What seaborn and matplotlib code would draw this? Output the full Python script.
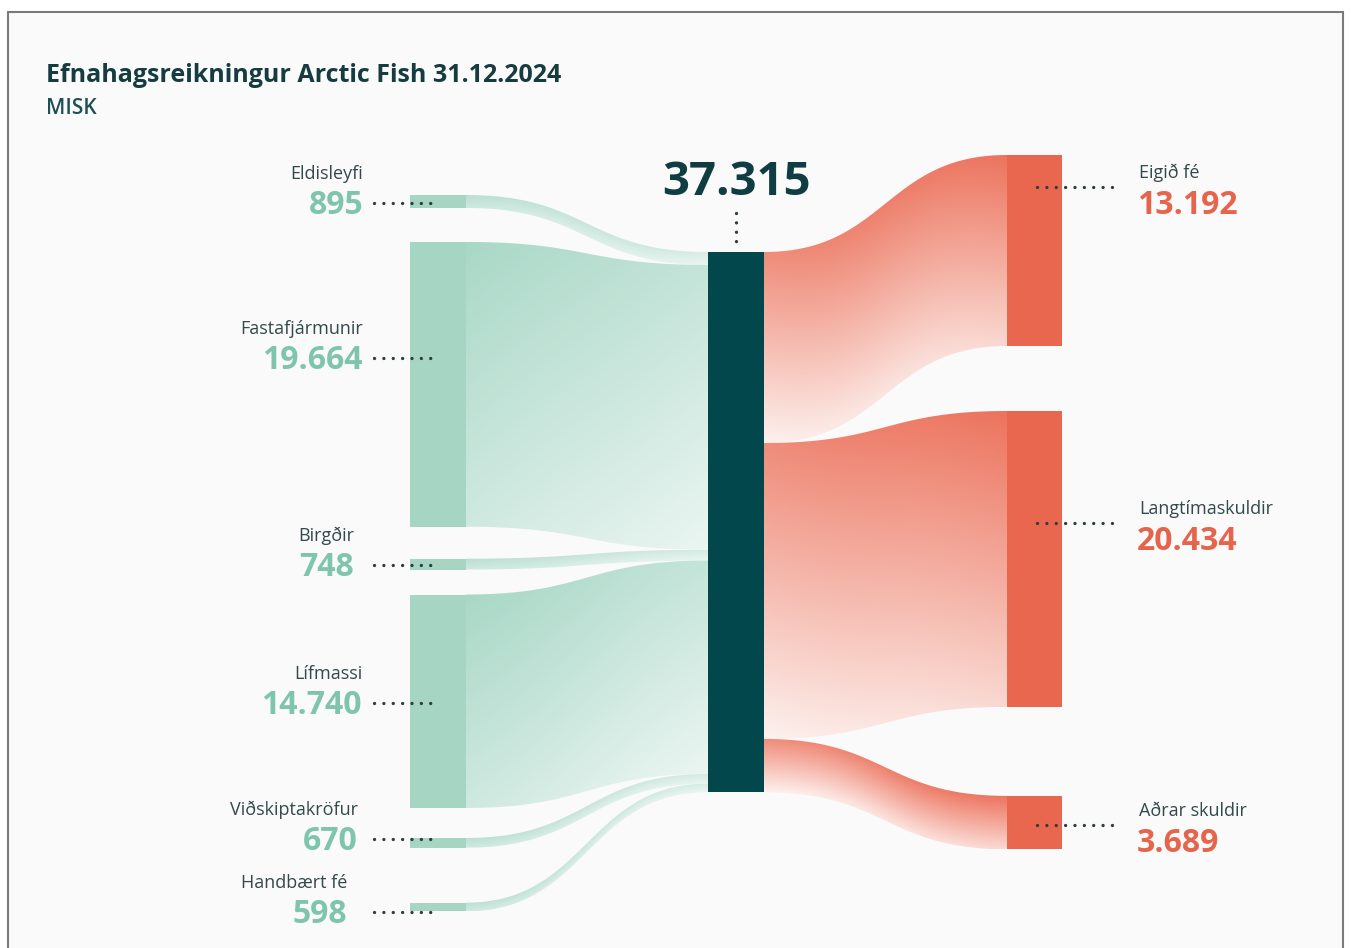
import numpy as np
import matplotlib
matplotlib.use("Agg")
import matplotlib.pyplot as plt
import seaborn as sns
from matplotlib.patches import Polygon, Rectangle
from matplotlib.colors import to_rgb

# data (MISK)
assets = ["Eldisleyfi", "Fastafjármunir", "Birgðir", "Lífmassi", "Viðskiptakröfur", "Handbært fé"]
asset_values = [895, 19664, 748, 14740, 670, 598]
claims = ["Eigið fé", "Langtímaskuldir", "Aðrar skuldir"]
claim_values = [13192, 20434, 3689]
title = "Efnahagsreikningur Arctic Fish 31.12.2024"
unit = "MISK"


def fmt(v):
    return f"{v:,}".replace(",", ".")


# layout (pixels of a 1353x948 canvas)
W, H = 1353, 948
px_per = 0.01448
left_x = (410, 466)
mid_x = (708, 764)
right_x = (1007, 1062)
mid_top = 252
left_start, left_gaps = 195, [0, 34, 32, 25, 30, 55]
right_start, right_gaps = 155, [0, 65, 89]
# label anchors
left_num_y = [203, 358, 565, 703, 839, 912]
left_txt_x = [363, 363, 354, 362, 358, 347]
right_dot_y = [187, 523, 825]
right_txt_x = 1137

green_node = "#a6d5c4"
green_top, green_bot = to_rgb("#a9d8c7"), to_rgb("#eef7f4")
red_node = "#e8674e"
red_top, red_bot = to_rgb("#ec735d"), to_rgb("#fdf1ee")
mid_col = "#02474c"
green_txt = "#7fc5ad"
red_txt = "#e5644b"
name_col = "#34494b"
dot_col = "#2f3d3e"

sns.set_theme(style="white")
plt.rcParams["font.family"] = ["Open Sans", "DejaVu Sans"]

fig = plt.figure(figsize=(W / 100, H / 100), dpi=100, facecolor="white")
ax = fig.add_axes([0, 0, 1, 1])
ax.set_xlim(0, W)
ax.set_ylim(H, 0)
ax.axis("off")

ax.add_patch(Rectangle((8, 12), 1335, 960, facecolor="#fafafa",
                       edgecolor="#7a7a7a", lw=1.5, zorder=0))


def stack(start, gaps, values):
    tops, y = [], start
    for g, v in zip(gaps, values):
        y += g
        tops.append(y)
        y += v * px_per
    return tops


def band(xa, ya0, ya1, xb, yb0, yb1, ctop, cbot, wv, wh, hflip, base=0.0):
    s = np.linspace(0, 1, 300)
    xs = xa + (xb - xa) * (1.5 * s - 1.5 * s ** 2 + s ** 3)
    ease = 3 * s ** 2 - 2 * s ** 3
    top = ya0 + (yb0 - ya0) * ease
    bot = ya1 + (yb1 - ya1) * ease
    verts = np.vstack([np.column_stack([xs, top]),
                       np.column_stack([xs[::-1], bot[::-1]])])
    poly = Polygon(verts, closed=True, facecolor="none", edgecolor="none",
                   transform=ax.transData)
    ax.add_patch(poly)
    ymin, ymax = min(top.min(), bot.min()), max(top.max(), bot.max())
    nx = int(xb - xa) + 2
    ny = int(ymax - ymin) + 2
    gx = np.linspace(xa, xb, nx)
    gy = np.linspace(ymin, ymax, ny)
    X, Y = np.meshgrid(gx, gy)
    T = np.interp(gx, xs, top)[None, :]
    B = np.interp(gx, xs, bot)[None, :]
    v = np.clip((Y - T) / np.maximum(B - T, 1e-6), 0, 1)
    h = (X - xa) / (xb - xa)
    if hflip:
        h = 1 - h
    t = np.clip(base + wv * v + wh * h, 0, 1)[..., None]
    rgb = np.array(ctop) * (1 - t) + np.array(cbot) * t
    im = ax.imshow(rgb, extent=(xa, xb, ymax, ymin), origin="upper",
                   aspect="auto", interpolation="bilinear", zorder=2)
    im.set_clip_path(poly)


left_tops = stack(left_start, left_gaps, asset_values)
right_tops = stack(right_start, right_gaps, claim_values)

# left flows into the total bar
y_mid = mid_top
for top, v in zip(left_tops, asset_values):
    hgt = v * px_per
    thin = hgt < 20
    band(left_x[1], top, top + hgt, mid_x[0], y_mid, y_mid + hgt,
         green_top, green_bot, 0.3 if thin else 0.55, 0.4, False,
         base=0.25 if thin else 0.0)
    y_mid += hgt

# right flows out of the total bar
y_mid = mid_top
for top, v in zip(right_tops, claim_values):
    hgt = v * px_per
    band(mid_x[1], y_mid, y_mid + hgt, right_x[0], top, top + hgt,
         red_top, red_bot, 0.8, 0.2, True)
    y_mid += hgt

# nodes
total = sum(asset_values)
ax.bar([np.mean(left_x)] * len(assets), [v * px_per for v in asset_values],
       bottom=left_tops, width=left_x[1] - left_x[0], color=green_node,
       linewidth=0, zorder=3)
ax.bar([np.mean(right_x)] * len(claims), [v * px_per for v in claim_values],
       bottom=right_tops, width=right_x[1] - right_x[0], color=red_node,
       linewidth=0, zorder=3)
ax.bar([np.mean(mid_x)], [total * px_per], bottom=[mid_top],
       width=mid_x[1] - mid_x[0], color=mid_col, linewidth=0, zorder=3)

dots = dict(color=dot_col, lw=2.4, linestyle=(0, (0.01, 2.8)),
            dash_capstyle="round", zorder=4)

# left labels
for name, v, ny, tx in zip(assets, asset_values, left_num_y, left_txt_x):
    ax.text(tx, ny + 11, fmt(v), ha="right", va="baseline", fontsize=23,
            fontweight="bold", color=green_txt, zorder=5)
    ax.text(tx, ny - 24, name, ha="right", va="baseline", fontsize=13,
            color=name_col, zorder=5)
    ax.plot([374, 438], [ny, ny], **dots)

# right labels
for name, v, dy in zip(claims, claim_values, right_dot_y):
    ax.text(right_txt_x, dy + 27, fmt(v), ha="left", va="baseline",
            fontsize=23, fontweight="bold", color=red_txt, zorder=5)
    ax.text(right_txt_x + 2, dy - 9, name, ha="left", va="baseline",
            fontsize=13, color=name_col, zorder=5)
    ax.plot([1037, 1120], [dy, dy], **dots)

# total
cx = np.mean(mid_x)
ax.text(cx, 195, fmt(total), ha="center", va="baseline", fontsize=34,
        fontweight="bold", color="#0f3d42", zorder=5)
ax.plot([cx, cx], [213, 250], **dots)

# title
ax.text(46, 82, title, ha="left", va="baseline", fontsize=18,
        fontweight="bold", color="#163c40")
ax.text(46, 114, unit, ha="left", va="baseline", fontsize=15,
        fontweight="semibold", color="#1e4f55")

fig.savefig("out.png", dpi=100, facecolor="white")
